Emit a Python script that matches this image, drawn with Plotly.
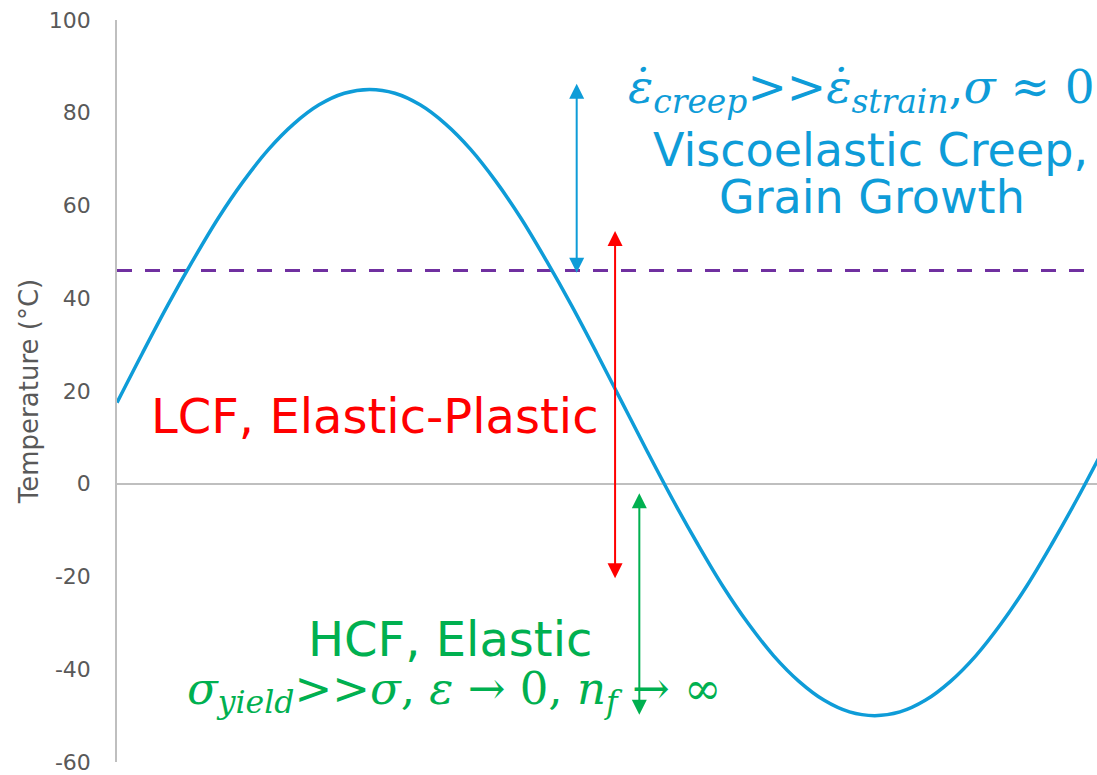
import plotly.graph_objects as go

# ---- data ----
time = [0.0, 0.25, 0.5, 0.75, 1.0, 1.25, 1.5, 1.75, 2.0, 2.25, 2.5, 2.75, 3.0, 3.25, 3.5,
        3.75, 4.0, 4.25, 4.5, 4.75, 5.0, 5.25, 5.5, 5.75, 6.0, 6.25, 6.5, 6.75, 7.0, 7.25,
        7.5, 7.75, 8.0, 8.25, 8.5, 8.75, 9.0, 9.25, 9.5, 9.75]
temperature = [17.5, 28.1, 38.4, 48.1, 57.2, 65.2, 72.1, 77.6, 81.7, 84.2, 85.0, 84.2, 81.7,
               77.6, 72.1, 65.2, 57.2, 48.1, 38.4, 28.1, 17.5, 6.9, -3.4, -13.1, -22.2,
               -30.2, -37.1, -42.6, -46.7, -49.2, -50.0, -49.2, -46.7, -42.6, -37.1, -30.2,
               -22.2, -13.1, -3.4, 6.9]
threshold_temp = 46.0
x_span = [0.0, 9.70]

y_ticks = [-60, -40, -20, 0, 20, 40, 60, 80, 100]
y_tick_labels = ["-60", "-40", "-20", "0", "20", "40", "60", "80", "100"]

# regime ranges (x position, low temp, high temp)
creep_range = [4.55, 45.5, 86.6]
lcf_range = [4.93, -20.4, 54.8]
hcf_range = [5.17, -49.8, -1.7]

BLUE = "#0E9CD8"
RED = "#FF0000"
GREEN = "#00B050"
PURPLE = "#7030A0"
GRAY = "#595959"

fig = go.Figure()
fig.add_trace(go.Scatter(x=x_span, y=[threshold_temp, threshold_temp], mode="lines",
                         line=dict(color=PURPLE, width=3, dash="15px,13px"),
                         hoverinfo="skip", showlegend=False))
fig.add_trace(go.Scatter(x=time, y=temperature, mode="lines",
                         line=dict(color=BLUE, width=3.5, shape="spline"),
                         showlegend=False))

def double_arrow(rng, color):
    return dict(x=rng[0], y=rng[1], ax=rng[0], ay=rng[2], xref="x", yref="y",
                axref="x", ayref="y", text="", showarrow=True,
                arrowhead=2, startarrowhead=2, arrowside="end+start",
                arrowsize=1.5, startarrowsize=1.5, arrowwidth=2, arrowcolor=color)

SANS = "DejaVu Sans"
SERIF = "DejaVu Serif"
sp = '<span style="font-family:DejaVu Sans">'

annotations = [
    double_arrow(creep_range, BLUE),
    double_arrow(lcf_range, RED),
    double_arrow(hcf_range, GREEN),
    dict(x=9.70, y=84.8, xref="x", yref="y", xanchor="right", yanchor="middle",
         text="<i>ε̇</i><sub><i>creep</i></sub>" + sp + "&gt;&gt;</span><i>ε̇</i><sub><i>strain</i></sub>,<i>σ</i> ≈ 0",
         showarrow=False, font=dict(family=SERIF, size=47, color=BLUE)),
    dict(x=7.46, y=72.0, xref="x", yref="y", xanchor="center", yanchor="middle",
         text="Viscoelastic Creep,", showarrow=False,
         font=dict(family=SANS, size=46, color=BLUE)),
    dict(x=7.47, y=61.9, xref="x", yref="y", xanchor="center", yanchor="middle",
         text="Grain Growth", showarrow=False,
         font=dict(family=SANS, size=46, color=BLUE)),
    dict(x=2.55, y=14.6, xref="x", yref="y", xanchor="center", yanchor="middle",
         text="LCF, Elastic-Plastic", showarrow=False,
         font=dict(family=SANS, size=48, color=RED)),
    dict(x=3.30, y=-33.4, xref="x", yref="y", xanchor="center", yanchor="middle",
         text="HCF, Elastic", showarrow=False,
         font=dict(family=SANS, size=48, color=GREEN)),
    dict(x=3.34, y=-44.6, xref="x", yref="y", xanchor="center", yanchor="middle",
         text="<i>σ</i><sub><i>yield</i></sub>" + sp + "&gt;&gt;</span><i>σ</i>, <i>ε</i> → 0, <i>n</i><sub><i>f</i></sub> → ∞",
         showarrow=False, font=dict(family=SERIF, size=45, color=GREEN)),
]

fig.update_layout(
    width=1097, height=775,
    margin=dict(l=117, r=0, t=20, b=10),
    paper_bgcolor="white", plot_bgcolor="white",
    annotations=annotations,
    xaxis=dict(range=x_span, showgrid=False, zeroline=False, showticklabels=False,
               showline=False, ticks=""),
    yaxis=dict(range=[-60, 100], tickvals=y_ticks, ticktext=y_tick_labels, showgrid=False,
               zeroline=True, zerolinecolor="#BFBFBF", zerolinewidth=1.5,
               showline=True, linecolor="#BFBFBF", linewidth=1.5,
               ticks="", ticklabelstandoff=20, ticklabeloverflow="allow",
               tickfont=dict(family=SANS, size=22, color=GRAY),
               title=dict(text="Temperature (°C)", standoff=3,
                          font=dict(family=SANS, size=26, color=GRAY))),
)

fig.write_html("out.html")
